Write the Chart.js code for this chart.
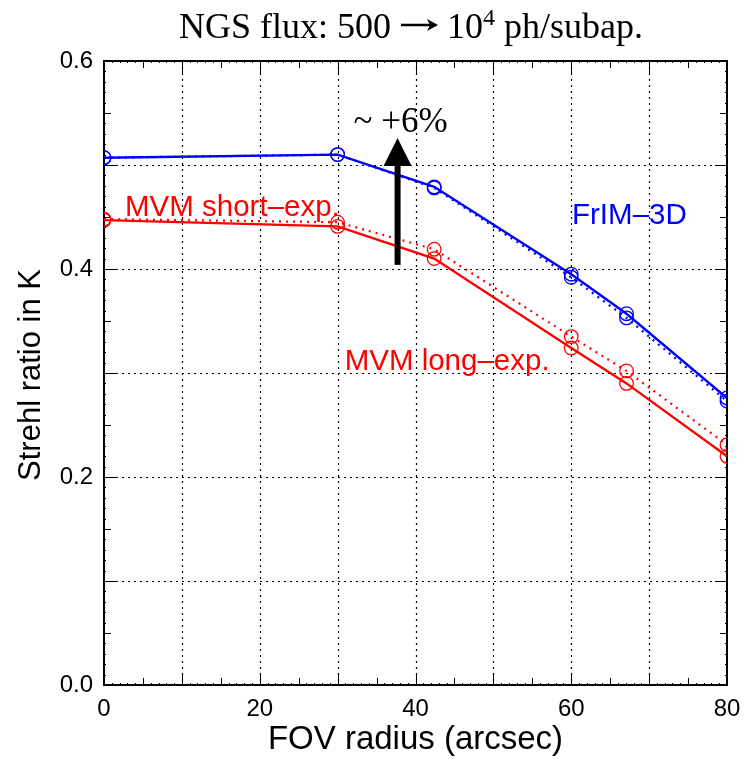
<!DOCTYPE html>
<html>
<head>
<meta charset="utf-8">
<script src="https://cdn.jsdelivr.net/npm/chart.js@4/dist/chart.umd.min.js"></script>
<style>
  html, body { margin: 0; padding: 0; background: #fff; }
  #wrap { width: 746px; height: 759px; }
</style>
</head>
<body>
<div id="wrap"><canvas id="strehl-chart" width="746" height="759"></canvas></div>
<script>
'use strict';

// FOV radius of the evaluation points (arcsec)
var fovRadius = [0, 30, 42.4, 60, 67.1, 80];

// Strehl ratio in K band
var frimSolid   = [0.507, 0.510, 0.479, 0.395, 0.357, 0.276];
var frimDotted  = [0.507, 0.510, 0.478, 0.392, 0.353, 0.273];
var mvmLong     = [0.447, 0.441, 0.410, 0.324, 0.290, 0.220];
var mvmShort    = [0.448, 0.445, 0.419, 0.335, 0.302, 0.231];

var xTitle = 'FOV radius (arcsec)';
var yTitle = 'Strehl ratio in K';

// labels placed inside the plot (data coords)
var notes = [
    { text: 'MVM short\u2013exp.', x: 2.7, y: 0.459, color: 'rgb(255,0,0)' },
    { text: 'FrIM\u20133D',        x: 60.1, y: 0.451, color: 'rgb(0,0,255)' },
    { text: 'MVM long\u2013exp.',  x: 30.9, y: 0.311, color: 'rgb(255,0,0)' }
];
var arrow = { x: 37.7, from: 0.404, to: 0.526, label: '~ +6%' };

function pts(ys) {
    return fovRadius.map(function (x, i) { return { x: x, y: ys[i] }; });
}

function series(label, ys, color, dotted) {
    return {
        label: label,
        data: pts(ys),
        borderColor: color,
        backgroundColor: 'rgba(0,0,0,0)',
        borderWidth: dotted ? 2.2 : 2.4,
        borderDash: dotted ? [2, 5] : [],
        pointRadius: 6.8,
        pointBorderWidth: 1.3,
        pointBorderColor: color,
        pointBackgroundColor: 'rgba(0,0,0,0)',
        tension: 0,
        clip: 0
    };
}

var serif = '"Liberation Serif", "Times New Roman", serif';
var sans = '"Liberation Sans", Arial, sans-serif';

var decor = {
    id: 'decor',
    beforeDatasetsDraw: function (chart) {
        var c = chart.ctx, a = chart.chartArea;
        var xs = chart.scales.x, ys = chart.scales.y;
        c.save();
        // dotted grid
        c.strokeStyle = '#000';
        c.lineWidth = 1.2;
        c.setLineDash([2, 4]);
        for (var v = 10; v < 80; v += 10) {
            var px = Math.round(xs.getPixelForValue(v)) + 0.5;
            c.beginPath(); c.moveTo(px, a.top); c.lineTo(px, a.bottom); c.stroke();
        }
        for (var k = 1; k < 6; k++) {
            var py = Math.round(ys.getPixelForValue(k / 10)) + 0.5;
            c.beginPath(); c.moveTo(a.left, py); c.lineTo(a.right, py); c.stroke();
        }
        c.setLineDash([]);
        // inward ticks on all sides
        c.lineWidth = 1;
        for (var i = 0; i <= 80; i++) {
            var len = i % 10 === 0 ? 12 : (i % 5 === 0 ? 7 : 2);
            var x = Math.round(xs.getPixelForValue(i)) + 0.5;
            c.beginPath();
            c.moveTo(x, a.bottom); c.lineTo(x, a.bottom - len);
            c.moveTo(x, a.top); c.lineTo(x, a.top + len);
            c.stroke();
        }
        for (var j = 0; j <= 60; j++) {
            var l2 = j % 10 === 0 ? 12 : (j % 5 === 0 ? 7 : 2);
            var y = Math.round(ys.getPixelForValue(j / 100)) + 0.5;
            c.beginPath();
            c.moveTo(a.left, y); c.lineTo(a.left + l2, y);
            c.moveTo(a.right, y); c.lineTo(a.right - l2, y);
            c.stroke();
        }
        // frame
        c.lineWidth = 2;
        c.strokeRect(a.left, a.top, a.right - a.left, a.bottom - a.top);
        c.restore();
    },
    afterDatasetsDraw: function (chart) {
        var c = chart.ctx;
        var xs = chart.scales.x, ys = chart.scales.y;
        c.save();
        // in-plot labels
        c.font = '29.5px ' + sans;
        c.textBaseline = 'middle';
        c.textAlign = 'left';
        notes.forEach(function (n) {
            c.fillStyle = n.color;
            c.fillText(n.text, xs.getPixelForValue(n.x), ys.getPixelForValue(n.y));
        });
        // arrow
        var ax = xs.getPixelForValue(arrow.x);
        var yb = ys.getPixelForValue(arrow.from);
        var yt = ys.getPixelForValue(arrow.to);
        var headH = 28, headW = 14;
        c.fillStyle = '#000';
        c.fillRect(ax - 3, yt + headH - 1, 6, yb - yt - headH + 1);
        c.beginPath();
        c.moveTo(ax, yt); c.lineTo(ax - headW, yt + headH); c.lineTo(ax + headW, yt + headH);
        c.closePath(); c.fill();
        c.font = '35px ' + serif;
        c.textAlign = 'center';
        c.textBaseline = 'alphabetic';
        c.fillText(arrow.label, ax + 3, yt - 6);
        c.restore();
    },
    afterDraw: function (chart) {
        var c = chart.ctx, a = chart.chartArea;
        c.save();
        c.fillStyle = '#000';
        c.strokeStyle = '#000';
        // title, drawn in pieces: text, long arrow, 10 with superscript 4
        var big = '36px ' + serif;
        var parts = [
            { t: 'NGS flux: 500 ', f: big, dy: 0 },
            { arrow: true, w: 38 },
            { t: ' 10', f: big, dy: 0 },
            { t: '4', f: '24px ' + serif, dy: -13 },
            { t: ' ph/subap.', f: big, dy: 0 }
        ];
        var total = 0;
        parts.forEach(function (p) {
            if (!p.arrow) { c.font = p.f; p.w = c.measureText(p.t).width; }
            total += p.w;
        });
        var tx = 411 - total / 2, base = 38;
        c.textAlign = 'left';
        c.textBaseline = 'alphabetic';
        parts.forEach(function (p) {
            if (p.arrow) {
                var ay = base - 13;
                c.lineWidth = 2.4;
                c.beginPath(); c.moveTo(tx + 1, ay); c.lineTo(tx + p.w - 3, ay); c.stroke();
                c.beginPath();
                c.moveTo(tx + p.w, ay); c.lineTo(tx + p.w - 11, ay - 6);
                c.lineTo(tx + p.w - 8, ay); c.lineTo(tx + p.w - 11, ay + 6);
                c.closePath(); c.fill();
            } else {
                c.font = p.f; c.fillText(p.t, tx, base + p.dy);
            }
            tx += p.w;
        });

        c.textAlign = 'center';
        c.textBaseline = 'middle';
        c.font = '33px ' + sans;
        c.fillText(xTitle, (a.left + a.right) / 2, 740);
        c.translate(31, 375);
        c.rotate(-Math.PI / 2);
        c.font = '31px ' + sans;
        c.fillText(yTitle, 0, 0);
        c.restore();
    }
};

var ctx = document.getElementById('strehl-chart').getContext('2d');
var chart = new Chart(ctx, {
    type: 'line',
    data: {
        datasets: [
            series('FrIM-3D', frimSolid, 'rgb(0,0,255)', false),
            series('FrIM-3D dotted', frimDotted, 'rgb(0,0,255)', true),
            series('MVM long-exp.', mvmLong, 'rgb(255,0,0)', false),
            series('MVM short-exp.', mvmShort, 'rgb(255,0,0)', true)
        ]
    },
    options: {
        responsive: false,
        animation: false,
        events: [],
        layout: { padding: { left: 0, right: 19, top: 61, bottom: 0 } },
        plugins: { legend: { display: false }, tooltip: { enabled: false } },
        scales: {
            x: {
                type: 'linear',
                min: 0, max: 80,
                grid: { display: false, drawTicks: false },
                border: { display: false },
                ticks: {
                    stepSize: 20, padding: 10, color: '#000',
                    font: { family: sans, size: 24 },
                    maxRotation: 0, autoSkip: false
                },
                afterFit: function (s) { s.height = 74; s.paddingLeft = 0; s.paddingRight = 0; }
            },
            y: {
                type: 'linear',
                min: 0, max: 0.6,
                grid: { display: false, drawTicks: false },
                border: { display: false },
                ticks: {
                    stepSize: 0.2, padding: 11, color: '#000',
                    font: { family: sans, size: 24 },
                    callback: function (v) { return v.toFixed(1); }
                },
                afterFit: function (s) { s.width = 104; s.paddingTop = 0; s.paddingBottom = 0; }
            }
        }
    },
    plugins: [decor]
});
</script>
</body>
</html>
